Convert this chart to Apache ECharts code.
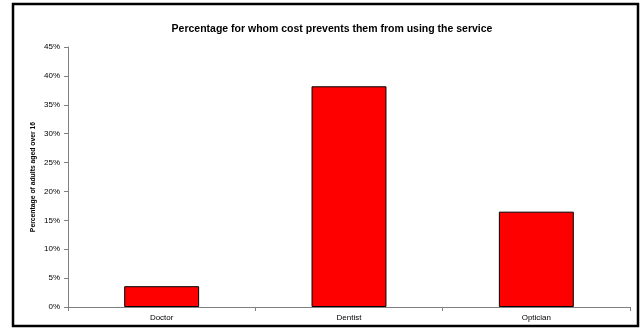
<!DOCTYPE html>
<html><head><meta charset="utf-8">
<script src="https://cdn.jsdelivr.net/npm/echarts@6/dist/echarts.min.js"></script>
<style>html,body{margin:0;padding:0;background:#fff}#c{width:642px;height:329px}</style>
</head><body><div id="c"></div>
<script>
const categories = ["Doctor", "Dentist", "Optician"];
const values = [3.6, 38.2, 16.5];
const yTicks = [0, 5, 10, 15, 20, 25, 30, 35, 40, 45];
const title = "Percentage for whom cost prevents them from using the service";
const yName = "Percentage of adults aged over 16";

const chart = echarts.init(document.getElementById('c'), null, {renderer: 'canvas'});
chart.setOption({
  animation: false,
  backgroundColor: '#fff',
  title: {text: title, left: 327, top: 19, textAlign: 'center',
    textStyle: {fontFamily: 'Liberation Sans', fontSize: 10.5, fontWeight: 'bold', color: '#000'}},
  graphic: [{type: 'rect', shape: {x: 13, y: 4, width: 625, height: 322},
    style: {fill: 'none', stroke: '#000', lineWidth: 2.5}, silent: true}],
  grid: {left: 68, right: 12, top: 47, bottom: 22, containLabel: false},
  xAxis: {type: 'category', data: categories,
    axisLine: {lineStyle: {color: '#808080', width: 1}},
    axisTick: {show: true, alignWithLabel: false, length: 4, lineStyle: {color: '#808080'}},
    axisLabel: {fontFamily: 'Liberation Sans', fontSize: 8, color: '#000', margin: 7},
    splitLine: {show: false}},
  yAxis: {type: 'value', min: yTicks[0], max: yTicks[yTicks.length - 1], interval: 5,
    name: yName, nameLocation: 'middle', nameGap: 31, nameMoveOverlap: false,
    nameTextStyle: {fontFamily: 'Liberation Sans', fontSize: 6.8, fontWeight: 'bold', color: '#000'},
    axisLine: {show: true, lineStyle: {color: '#808080', width: 1}},
    axisTick: {show: true, length: 4, lineStyle: {color: '#808080'}},
    axisLabel: {fontFamily: 'Liberation Sans', fontSize: 8, color: '#000', margin: 8,
      formatter: v => v + '%'},
    splitLine: {show: false}},
  series: [{type: 'bar', data: values, barWidth: '40%',
    itemStyle: {color: '#FF0000', borderColor: '#000', borderWidth: 1}}]
});
</script></body></html>
